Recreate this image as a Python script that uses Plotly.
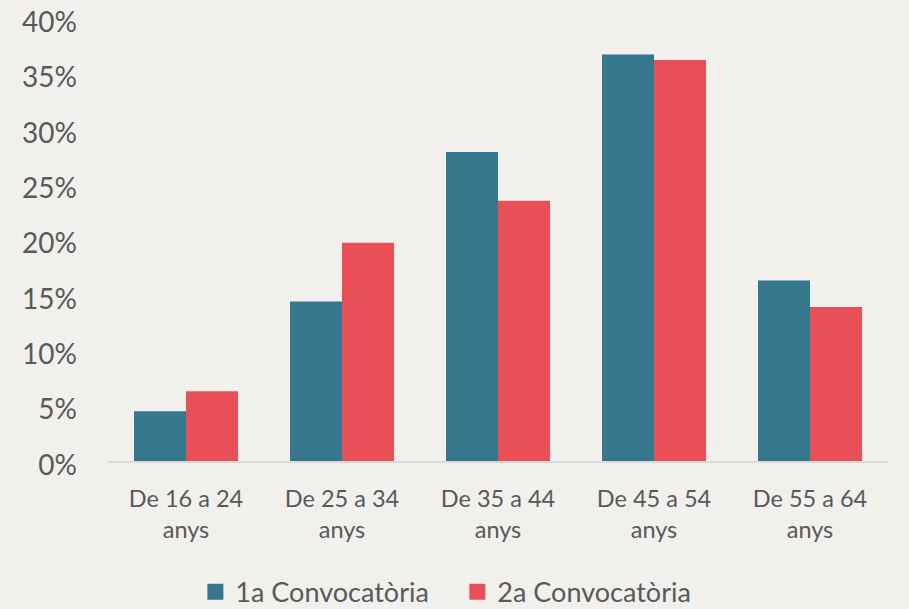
import plotly.graph_objects as go

categories = ["De 16 a 24<br>anys", "De 25 a 34<br>anys", "De 35 a 44<br>anys",
              "De 45 a 54<br>anys", "De 55 a 64<br>anys"]
primera = [4.5, 14.4, 27.9, 36.7, 16.3]
segona = [6.3, 19.7, 23.5, 36.2, 13.9]
series_names = ["1a Convocatòria", "2a Convocatòria"]
tick_vals = [0, 5, 10, 15, 20, 25, 30, 35, 40]
tick_text = ["0%", "5%", "10%", "15%", "20%", "25%", "30%", "35%", "40%"]

TEAL = "#35788e"
RED = "#e84f57"
BG = "#f2f0ec"
TEXT = "#595959"
FONT = "Lato"

fig = go.Figure()
for vals, name, color in [(primera, series_names[0], TEAL), (segona, series_names[1], RED)]:
    fig.add_trace(go.Bar(x=categories, y=vals, name=name, showlegend=False,
                         marker=dict(color=color, line=dict(width=0))))
    # square legend swatch
    fig.add_trace(go.Scatter(x=[None], y=[None], mode="markers", name=name,
                             marker=dict(symbol="square", size=18, color=color)))

fig.update_layout(
    width=909, height=609,
    paper_bgcolor=BG, plot_bgcolor=BG,
    margin=dict(l=108, r=21, t=17.5, b=147.5, autoexpand=False),
    barmode="group", bargap=1/3, bargroupgap=0,
    font=dict(family=FONT, size=24, color=TEXT),
    showlegend=True,
    legend=dict(orientation="h", x=0.112, xanchor="left", y=-0.296, yanchor="middle",
                font=dict(family=FONT, size=27, color=TEXT), itemwidth=30,
                itemsizing="trace", entrywidth=217, entrywidthmode="pixels",
                bgcolor="rgba(0,0,0,0)", traceorder="normal"),
)
fig.update_xaxes(showgrid=False, showline=True, linecolor="#d9d9d9", linewidth=1.5,
                 ticks="", tickfont=dict(family=FONT, size=23.5, color=TEXT),
                 ticklabelstandoff=16)
fig.update_yaxes(range=[0, 40], tickvals=tick_vals, ticktext=tick_text,
                 showgrid=False, zeroline=False, showline=False, ticks="",
                 tickfont=dict(family=FONT, size=28, color=TEXT),
                 ticklabelstandoff=30, ticklabeloverflow="allow", ticklabelshift=4)

fig.write_html("out.html")
